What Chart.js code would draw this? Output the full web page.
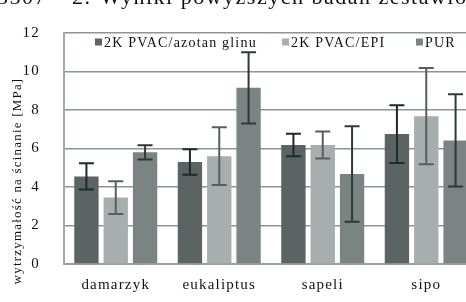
<!DOCTYPE html>
<html>
<head>
<meta charset="utf-8">
<script src="https://cdn.jsdelivr.net/npm/chart.js@4.4.0/dist/chart.umd.min.js"></script>
<style>
    html, body {margin: 0; padding: 0; overflow: hidden; background: #fff;}
    #wrap {position: relative; width: 480px; height: 302px;}
    .top {position: absolute; top: -14px; font-family: "Liberation Serif", serif; font-size: 22px;
        line-height: 22px; letter-spacing: 1.5px; color: #111; white-space: nowrap; z-index: 2;}
</style>
</head>
<body>
<div id="wrap">
    <div class="top" style="left:-3px">3507</div>
    <div class="top" style="left:72px">2.</div>
    <div class="top" style="left:100px">Wyniki powyższych badań zestawiono</div>
    <canvas id="chart"></canvas>
</div>
<script>
const categories = ['damarzyk', 'eukaliptus', 'sapeli', 'sipo'];
const seriesNames = ['2K PVAC/azotan glinu', '2K PVAC/EPI', 'PUR'];
const azotanValues = [4.55, 5.3, 6.18, 6.75];
const azotanErrors = [0.68, 0.66, 0.58, 1.5];
const epiValues = [3.45, 5.6, 6.18, 7.68];
const epiErrors = [0.85, 1.5, 0.7, 2.5];
const purValues = [5.8, 9.15, 4.68, 6.42];
const purErrors = [0.37, 1.85, 2.48, 2.4];
const yTicks = [0, 2, 4, 6, 8, 10, 12];
const yTitle = 'wytrzymałość na ścinanie [MPa]';

const FONT = '"Liberation Serif", "Times New Roman", serif';

// canvas letter spacing, the source picture has loose text
const spacing = {
    id: 'spacing',
    beforeUpdate(chart) { chart.ctx.letterSpacing = '1.2px'; },
    beforeDraw(chart) { chart.ctx.letterSpacing = '1.2px'; }
};

const errorBars = {
    id: 'errorBars',
    afterDatasetsDraw(chart) {
        const ctx = chart.ctx;
        const y = chart.scales.y;
        chart.data.datasets.forEach((ds, i) => {
            const meta = chart.getDatasetMeta(i);
            meta.data.forEach((bar, j) => {
                const v = ds.data[j], e = ds.errors[j];
                const top = y.getPixelForValue(v + e);
                const bottom = y.getPixelForValue(v - e);
                ctx.save();
                ctx.strokeStyle = ds.errorColor;
                ctx.lineWidth = 2;
                ctx.beginPath();
                ctx.moveTo(bar.x, top);
                ctx.lineTo(bar.x, bottom);
                ctx.moveTo(bar.x - 7.5, top);
                ctx.lineTo(bar.x + 7.5, top);
                ctx.moveTo(bar.x - 7.5, bottom);
                ctx.lineTo(bar.x + 7.5, bottom);
                ctx.stroke();
                ctx.restore();
            });
        });
    }
};

// legend sits inside the plot, in one row
const inlineLegend = {
    id: 'inlineLegend',
    afterDraw(chart) {
        const ctx = chart.ctx;
        const starts = [95, 282, 416];
        const cy = 42;
        ctx.save();
        ctx.font = '14px ' + FONT;
        ctx.textBaseline = 'middle';
        ctx.textAlign = 'left';
        chart.data.datasets.forEach((ds, i) => {
            const x = starts[i];
            ctx.fillStyle = ds.backgroundColor;
            ctx.fillRect(x, cy - 3.5, 7, 7);
            ctx.fillStyle = '#111';
            ctx.fillText(ds.label, x + 9, cy + 1);
        });
        ctx.restore();
    }
};

const axisTitle = {
    id: 'axisTitle',
    afterDraw(chart) {
        const ctx = chart.ctx;
        ctx.save();
        ctx.translate(18, 181);
        ctx.rotate(-Math.PI / 2);
        ctx.font = '13px ' + FONT;
        ctx.fillStyle = '#111';
        ctx.textAlign = 'center';
        ctx.textBaseline = 'middle';
        ctx.fillText(yTitle, 0, 0);
        ctx.restore();
    }
};

new Chart(document.getElementById('chart'), {
    type: 'bar',
    data: {
        labels: categories,
        datasets: [
            {label: seriesNames[0], data: azotanValues, errors: azotanErrors,
                backgroundColor: '#5b6363', errorColor: '#1f2a29'},
            {label: seriesNames[1], data: epiValues, errors: epiErrors,
                backgroundColor: '#a8adad', errorColor: '#56605f'},
            {label: seriesNames[2], data: purValues, errors: purErrors,
                backgroundColor: '#7c8383', errorColor: '#2e3938'}
        ]
    },
    options: {
        responsive: true,
        maintainAspectRatio: false,
        animation: false,
        devicePixelRatio: 1,
        layout: {padding: {top: 17, right: 2, left: 0, bottom: 0}},
        datasets: {bar: {categoryPercentage: 0.85, barPercentage: 0.83}},
        plugins: {
            legend: {display: false},
            tooltip: {enabled: false}
        },
        scales: {
            x: {
                afterFit(scale) { scale.height = 38; },
                grid: {display: false, drawTicks: false},
                border: {color: '#9aa0a0', width: 2},
                ticks: {color: '#111', padding: 12, font: {family: FONT, size: 15}}
            },
            y: {
                min: 0,
                max: 12,
                afterFit(scale) { scale.width = 64; },
                afterBuildTicks(scale) { scale.ticks = yTicks.map(v => ({value: v})); },
                grid: {color: '#8c9494', lineWidth: 1.5, drawTicks: false},
                border: {color: '#a3a8a8', width: 2},
                ticks: {color: '#111', padding: 24, font: {family: FONT, size: 15}}
            }
        }
    },
    plugins: [spacing, errorBars, inlineLegend, axisTitle]
});
</script>
</body>
</html>
